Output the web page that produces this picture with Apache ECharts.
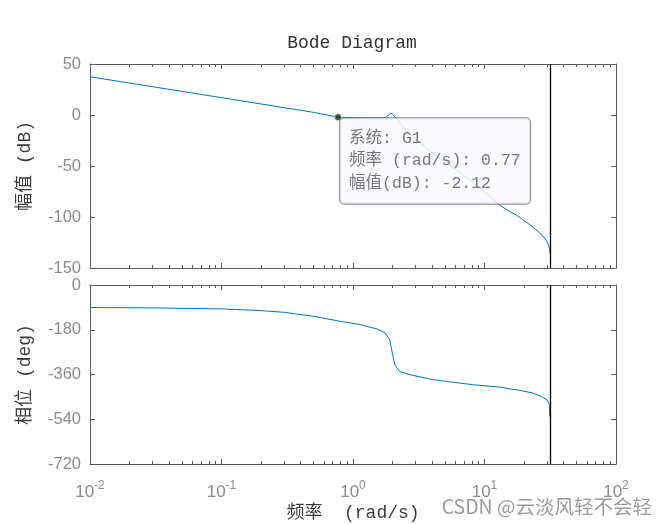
<!DOCTYPE html>
<html>
<head>
<meta charset="utf-8">
<script src="https://cdn.jsdelivr.net/npm/echarts@6/dist/echarts.min.js"></script>
<style>
  html, body { margin: 0; padding: 0; background: #fff; }
  #main { width: 668px; height: 524px; }
</style>
</head>
<body>
<div id="main"></div>
<script>
  // magnitude curve (rad/s, dB)
  const magFreq = [0.01, 0.02, 0.05, 0.1, 0.2, 0.3, 0.5, 0.77, 1.0, 1.3, 1.6, 1.76, 1.85, 1.94, 2.02, 2.1, 2.2, 2.35, 2.5, 3.0, 4.0, 5.0, 6.0, 8.0, 10.0, 12.7, 15.0, 17.7, 19.5, 22.1, 24.5, 26.7, 28.5, 29.8, 30.8, 31.2, 31.4]
  const magDb = [37.5, 31.3, 23.2, 17.0, 10.8, 7.2, 2.6, -2.12, -2.7, -2.9, -3.0, -2.6, -0.5, 1.9, 0.2, -2.5, -5.5, -10, -14, -24, -37, -46, -53, -65, -75, -87.3, -93.5, -98.5, -102.5, -107.5, -112, -116.5, -120.5, -124, -128, -131, -135]

  // phase curve (rad/s, deg)
  const phaseFreq = [0.01, 0.03, 0.1, 0.2, 0.3, 0.5, 0.8, 1.13, 1.52, 1.76, 1.9, 1.99, 2.08, 2.27, 2.72, 4.07, 8.15, 13.1, 18.6, 23.0, 26.6, 29.8, 31.0, 31.2, 31.4]
  const phaseDeg = [-90.5, -92, -96, -103, -110, -126, -146, -159, -177, -193, -220, -273, -321, -348, -361, -381, -401, -411, -424, -434, -446, -462, -478, -489, -529]

  // data tip and nyquist line
  const tipPoint = [0.77, -2.12]
  const tipLines = ['系统: G1', '频率 (rad/s): 0.77', '幅值(dB): -2.12']
  const nyquistFreq = 31.4159

  const magTicks = [-150, 50, 50]     // min, max, step
  const phaseTicks = [-720, 0, 180]

  const axisColor = '#5a5a5a'
  const labelColor = '#8a8a8a'
  const monoFont = "'Liberation Mono', 'Noto Sans CJK SC', monospace"

  const chart = echarts.init(document.getElementById('main'))

  function logX(grid, pos, showLabel, name) {
    return {
      type: 'log', logBase: 10, gridIndex: grid, position: pos,
      min: 0.01, max: 100,
      name: name || '', nameLocation: 'middle', nameGap: 40,
      nameTextStyle: { fontFamily: monoFont, fontSize: 18, color: '#3a3a3a' },
      axisLine: { show: true, onZero: false, lineStyle: { color: axisColor, width: 1 } },
      axisTick: { show: true, inside: true, length: 5, lineStyle: { color: axisColor } },
      minorTick: { show: true, splitNumber: 9, length: 3, lineStyle: { color: axisColor } },
      splitLine: { show: false },
      minorSplitLine: { show: false },
      axisLabel: {
        show: showLabel, margin: 16, color: labelColor,
        formatter: v => '{b|10}{e|' + Math.round(Math.log10(v)) + '}',
        rich: {
          b: { fontSize: 17, fontFamily: 'Liberation Sans', color: labelColor },
          e: { fontSize: 12, fontFamily: 'Liberation Sans', color: labelColor, padding: [0, 0, 12, 0] }
        }
      }
    }
  }

  function linY(grid, pos, ticks, name) {
    return {
      type: 'value', gridIndex: grid, position: pos,
      min: ticks[0], max: ticks[1], interval: ticks[2],
      name: name || '', nameLocation: 'middle', nameGap: 56,
      nameTextStyle: { fontFamily: monoFont, fontSize: 18, color: '#3a3a3a' },
      axisLine: { show: true, onZero: false, lineStyle: { color: axisColor, width: 1 } },
      axisTick: { show: true, inside: true, length: 5, lineStyle: { color: axisColor } },
      splitLine: { show: false },
      axisLabel: {
        show: pos === 'left', margin: 9, color: labelColor,
        fontSize: 16.5, fontFamily: 'Liberation Sans'
      }
    }
  }

  const nyquistLine = {
    silent: true, symbol: 'none', label: { show: false },
    lineStyle: { color: '#000', width: 1.3, type: 'solid' },
    data: [{ xAxis: nyquistFreq }]
  }

  const option = {
    animation: false,
    backgroundColor: '#fff',
    title: {
      text: 'Bode Diagram', left: 347, top: 29, textAlign: 'center',
      textStyle: { fontFamily: monoFont, fontSize: 18, fontWeight: 'normal', color: '#333' }
    },
    grid: [
      { left: 90, top: 64, width: 526, height: 204 },
      { left: 90, top: 285, width: 526, height: 179 }
    ],
    xAxis: [
      logX(0, 'bottom', false),
      logX(0, 'top', false),
      logX(1, 'bottom', true, '频率  (rad/s)'),
      logX(1, 'top', false)
    ],
    yAxis: [
      linY(0, 'left', magTicks, '幅值 (dB)'),
      linY(0, 'right', magTicks),
      linY(1, 'left', phaseTicks, '相位 (deg)'),
      linY(1, 'right', phaseTicks)
    ],
    series: [
      {
        type: 'line', xAxisIndex: 0, yAxisIndex: 0, z: 2,
        data: magFreq.map((f, i) => [f, magDb[i]]),
        showSymbol: false, lineStyle: { color: '#0072BD', width: 1 },
        markLine: nyquistLine
      },
      {
        type: 'line', xAxisIndex: 2, yAxisIndex: 2, z: 2,
        data: phaseFreq.map((f, i) => [f, phaseDeg[i]]),
        showSymbol: false, lineStyle: { color: '#0072BD', width: 1 },
        markLine: nyquistLine
      },
      {
        type: 'scatter', xAxisIndex: 0, yAxisIndex: 0, z: 10,
        data: [tipPoint], symbolSize: 7,
        itemStyle: { color: '#222', borderColor: '#f3eeb0', borderWidth: 1 },
        label: {
          show: true, position: [6, 5],
          formatter: tipLines.join('\n'),
          fontFamily: monoFont, fontSize: 16.5, color: '#555', lineHeight: 22.5,
          width: 172, padding: [9, 9, 9, 9],
          backgroundColor: '#f8f8fe', borderColor: '#6e6e6e', borderWidth: 1, borderRadius: 4
        }
      }
    ],
    graphic: [
      {
        type: 'text', right: 16, top: 497, z: 100,
        style: { text: 'CSDN @云淡风轻不会轻', fill: '#9a9a9a', font: "19.5px 'Noto Sans CJK SC', sans-serif" }
      }
    ]
  }

  chart.setOption(option)
</script>
</body>
</html>
